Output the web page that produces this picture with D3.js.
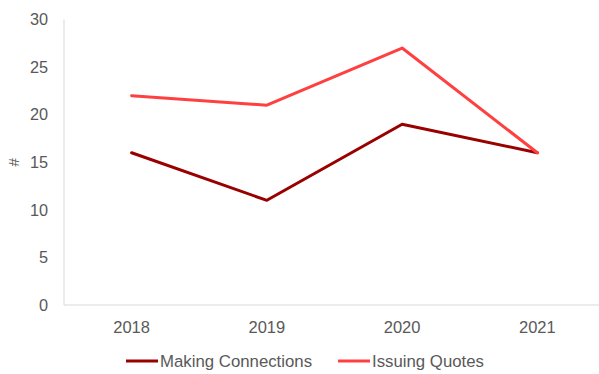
<!DOCTYPE html>
<html>
<head>
<meta charset="utf-8">
<script src="https://cdn.jsdelivr.net/npm/d3@7/dist/d3.min.js"></script>
<style>
  html, body { margin: 0; padding: 0; background: #fff; }
  svg { display: block; font-family: "Liberation Sans", Arial, sans-serif; }
</style>
</head>
<body>
<svg id="chart" width="599" height="374"></svg>
<script>
const years = ["2018", "2019", "2020", "2021"];
const makingConnections = [16, 11, 19, 16];
const issuingQuotes = [22, 21, 27, 16];
const yTicks = [0, 5, 10, 15, 20, 25, 30];
const seriesNames = ["Making Connections", "Issuing Quotes"];
const seriesColors = ["#990000", "#ff4040"];

const series = [
  { name: seriesNames[0], values: makingConnections, color: seriesColors[0] },
  { name: seriesNames[1], values: issuingQuotes, color: seriesColors[1] }
];

const svg = d3.select("#chart");
const margin = { left: 64, top: 19.5, bottom: 69 };
const plotRight = 605;
const height = 374;

const x = d3.scaleBand().domain(years).range([margin.left, plotRight]);
const y = d3.scaleLinear().domain([0, 30]).range([height - margin.bottom, margin.top]);

// axis lines
svg.append("line")
  .attr("x1", margin.left).attr("x2", margin.left)
  .attr("y1", y(30)).attr("y2", y(0))
  .attr("stroke", "#d9d9d9").attr("stroke-width", 1);
svg.append("line")
  .attr("x1", margin.left).attr("x2", plotRight)
  .attr("y1", y(0)).attr("y2", y(0))
  .attr("stroke", "#d9d9d9").attr("stroke-width", 1);

// y tick labels
const yAxis = d3.axisLeft(y).tickValues(yTicks).tickSize(0).tickPadding(16);
const gy = svg.append("g").attr("transform", `translate(${margin.left},0)`).call(yAxis);
gy.select(".domain").remove();
gy.selectAll("text")
  .attr("fill", "#595959")
  .style("font-size", "16.3px")
  .style("font-family", "Liberation Sans, Arial, sans-serif");

// x tick labels
const xAxis = d3.axisBottom(x).tickSize(0).tickPadding(16);
const gx = svg.append("g").attr("transform", `translate(0,${y(0)})`).call(xAxis);
gx.select(".domain").remove();
gx.selectAll("text")
  .attr("fill", "#595959")
  .style("font-size", "16.5px")
  .style("font-family", "Liberation Sans, Arial, sans-serif");

// y axis title
svg.append("text")
  .attr("transform", `translate(14,${y(15)}) rotate(-90)`)
  .attr("text-anchor", "middle")
  .attr("dy", "0.35em")
  .attr("fill", "#595959")
  .style("font-size", "15px")
  .text("#");

// lines
const line = d3.line()
  .x((d, i) => x(years[i]) + x.bandwidth() / 2)
  .y(d => y(d));

svg.selectAll("path.series")
  .data(series)
  .enter().append("path")
  .attr("class", "series")
  .attr("d", d => line(d.values))
  .attr("fill", "none")
  .attr("stroke", d => d.color)
  .attr("stroke-width", 3)
  .attr("stroke-linejoin", "round")
  .attr("stroke-linecap", "round");

// legend
const legendY = 361;
const legendItems = [
  { x: 126, s: series[0] },
  { x: 338, s: series[1] }
];
legendItems.forEach(it => {
  svg.append("line")
    .attr("x1", it.x).attr("x2", it.x + 32)
    .attr("y1", legendY).attr("y2", legendY)
    .attr("stroke", it.s.color).attr("stroke-width", 3);
  svg.append("text")
    .attr("x", it.x + 34).attr("y", legendY)
    .attr("dy", "0.35em")
    .attr("fill", "#595959")
    .style("font-size", "16.8px")
    .text(it.s.name);
});
</script>
</body>
</html>
